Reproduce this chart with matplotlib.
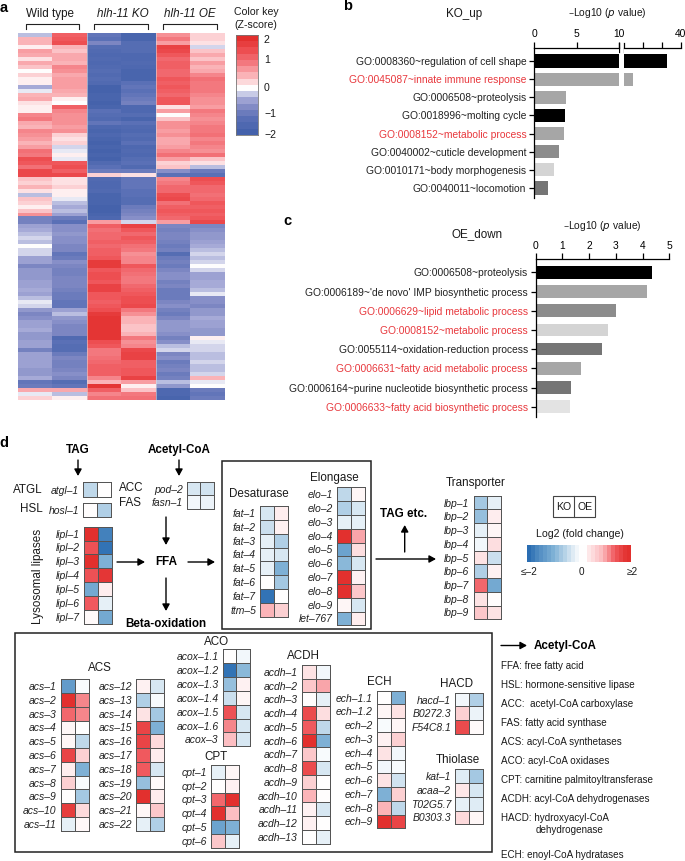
import numpy as np
import matplotlib
matplotlib.use('Agg')
import matplotlib.pyplot as plt
from matplotlib.colors import LinearSegmentedColormap, Normalize
from matplotlib.patches import Rectangle

plt.rcParams['font.family'] = ['Liberation Sans', 'DejaVu Sans']
plt.rcParams['axes.linewidth'] = 0.9

W, H = 685, 861

# Panel a, z-scores read top to bottom, one list per sample
wt_1 = [-0.3, 0.5, 0.5, 0.1, 0.7, 0.6, 0.2, 0.6, 0.4, 0.0,
        0.3, 0.1, 0.1, -0.4, -0.1, 0.5, 0.6, 0.2, 0.1, 0.1,
        0.9, 1.0, 0.6, 0.5, 0.9, 0.8, 0.7, 0.5, 0.7, 1.1,
        1.0, 1.5, 1.4, 1.1, 1.6, 1.6, 0.4, 0.3, 0.5, 0.2,
        -0.3, 0.4, 0.3, 0.1, 0.4, 0.8, -0.9,
        -0.9, -0.5, -0.4, -0.3, -0.2, -0.3, 0.0, -0.2, -0.2, -0.5,
        -0.5, -0.8, -0.6, -0.6, -0.6, -0.5, -0.5, -0.4, -0.5, -0.3,
        -0.1, -0.2, -0.6, -0.8, -0.7, -0.5, -0.5, -0.4, -0.6, -0.6,
        -0.5, -0.5, -0.9, -0.5, -0.5, -0.5, -0.5, -0.6, -0.6, -0.4,
        -1.1, -1.0, 0.6, -0.1, 0.3]
wt_2 = [1.3, 1.4, 1.5, 0.5, 0.4, 0.6, 0.6, 0.5, 0.9, 0.8,
        0.6, 0.7, 0.7, 0.7, 0.6, 0.5, 0.1, 0.0, 1.3, 0.9,
        0.8, 0.8, 0.8, 0.7, 0.8, 0.3, 0.2, 0.3, -0.2, -0.1,
        0.1, -0.1, 1.4, 1.5, 1.3, 1.6, 0.2, 0.2, 0.3, 0.1,
        0.1, -0.1, -0.3, -0.4, -0.3, -0.5, -1.0,
        -1.2, -0.7, -0.7, -0.6, -0.7, -0.7, -0.8, -0.8, -1.1, -1.0,
        -0.7, -0.8, -0.9, -0.9, -0.8, -0.8, -0.8, -0.9, -1.0, -1.0,
        -1.1, -1.1, -0.5, -0.3, -0.6, -0.7, -0.8, -0.8, -0.8, -1.4,
        -1.2, -1.3, -1.3, -1.0, -0.8, -0.9, -0.9, -0.8, -0.7, -0.8,
        -1.3, -1.1, 0.6, -0.3, 0.1]
ko_1 = [-1.1, -1.2, -0.8, -1.3, -1.4, -1.5, -1.4, -1.5, -1.4, -1.3,
        -1.4, -1.3, -1.4, -1.7, -1.7, -1.6, -1.6, -1.7, -1.6, -1.2,
        -1.3, -1.4, -1.1, -1.5, -1.6, -1.5, -1.6, -1.7, -1.6, -1.7,
        -1.6, -1.7, -1.4, -1.2, -1.0, 0.3, -1.4, -1.5, -1.5, -1.4,
        -1.6, -1.6, -1.6, -1.7, -1.7, -1.6, -1.5,
        0.7, 1.3, 1.1, 1.2, 1.2, 1.3, 1.2, 1.3, 1.3, 1.4,
        1.8, 1.8, 1.4, 1.5, 1.5, 1.4, 1.7, 1.7, 1.4, 1.4,
        1.3, 1.4, 1.5, 1.8, 1.9, 1.9, 1.9, 1.9, 1.9, 1.9,
        1.5, 1.4, 1.0, 1.0, 1.1, 1.2, 1.3, 1.3, 1.3, 0.9,
        0.5, 1.9, 1.3, 0.9, 1.1]
ko_2 = [-1.6, -1.6, -1.3, -1.3, -1.3, -1.5, -1.5, -1.4, -1.5, -1.6,
        -1.6, -1.6, -1.2, -1.1, -1.2, -1.1, -1.0, -0.9, -1.5, -1.5,
        -1.3, -1.6, -1.2, -1.4, -1.5, -1.3, -1.4, -1.2, -1.5, -1.4,
        -1.5, -1.3, -1.2, -1.4, -1.0, 0.2, -1.1, -1.1, -1.1, -1.2,
        -1.2, -1.3, -1.3, -1.0, -0.9, -0.8, -0.7,
        -0.2, 1.7, 1.4, 1.2, 1.4, 1.3, 1.1, 1.0, 0.8, 0.9,
        0.9, 1.4, 1.2, 1.1, 1.0, 1.0, 1.2, 1.3, 1.4, 1.5,
        1.5, 1.6, 1.0, 0.8, 0.5, 0.5, 0.4, 0.4, 0.5, 1.0,
        0.8, 0.9, 1.6, 1.7, 1.7, 1.3, 1.3, 1.4, 1.4, 1.7,
        0.7, 0.1, 0.4, 1.0, 1.1]
oe_1 = [0.8, 1.0, 0.7, 1.7, 1.6, 1.4, 1.2, 1.3, 1.3, 1.2,
        1.2, 1.4, 1.3, 1.4, 1.3, 1.2, 1.4, 1.4, 0.2, 0.7,
        0.0, 0.4, 0.8, 0.8, 0.7, 0.8, 0.6, 0.6, 0.7, 0.9,
        1.1, 0.7, 0.3, 0.4, -0.7, -1.2, 0.9, 1.0, 1.2, 1.2,
        1.5, 1.6, 1.1, 1.3, 1.4, 1.3, 1.2,
        0.7, -0.8, -0.9, -0.8, -0.8, -0.9, -1.0, -0.9, -1.3, -1.0,
        -0.9, -1.0, -0.8, -0.7, -0.7, -0.9, -0.8, -1.0, -1.0, -1.0,
        -0.8, -0.7, -0.9, -1.0, -0.8, -0.6, -0.6, -0.6, -0.7, -0.9,
        -0.7, -0.3, -0.2, -0.8, -0.7, -1.0, -0.9, -0.8, -1.0, -0.9,
        -0.3, -0.6, -1.5, -1.5, -1.6]
oe_2 = [0.3, 0.3, 0.2, -0.2, 0.4, 0.6, 0.4, 0.7, 0.5, 0.6,
        0.9, 1.1, 1.0, 1.0, 1.0, 0.9, 0.8, 0.8, 0.7, 1.0,
        0.9, 0.8, 0.9, 1.0, 1.0, 1.1, 0.9, 1.0, 0.9, 0.8,
        1.1, 0.4, 0.2, -0.3, -1.0, -1.2, 1.5, 1.4, 1.2, 1.2,
        1.1, 1.2, 1.4, 1.3, 1.4, 1.3, 1.4,
        1.6, -0.8, -0.7, -0.6, -0.6, -0.5, -0.4, -0.3, -0.2, -0.3,
        -0.2, 0.0, -0.2, -0.5, -0.5, -0.4, -0.4, -0.3, -0.1, -0.7,
        -0.7, -0.8, -0.6, -0.6, -0.4, -0.5, -0.5, -0.6, -0.6, 0.1,
        -0.1, -0.2, -0.2, -0.3, -0.3, -0.2, -0.3, -0.3, -0.2, 0.5,
        -0.1, 0.0, -1.0, -1.1, -1.0]
key_levels = [2, 1.75, 1.5, 1.25, 1, 0.75, 0.5, 0.25, 0, -0.25, -0.5, -0.75, -1, -1.25, -1.5, -1.75]

# Panel b
b_terms = ['GO:0008360~regulation of cell shape', 'GO:0045087~innate immune response',
           'GO:0006508~proteolysis', 'GO:0018996~molting cycle', 'GO:0008152~metabolic process',
           'GO:0040002~cuticle development', 'GO:0010171~body morphogenesis', 'GO:0040011~locomotion']
b_values = [33, 14.7, 3.75, 3.6, 3.5, 2.9, 2.35, 1.6]
b_colors = ['#000000', '#a6a6a6', '#a6a6a6', '#000000', '#a6a6a6', '#8c8c8c', '#d4d4d4', '#757575']
b_red = [1, 4]

# Panel c
c_terms = ['GO:0006508~proteolysis', "GO:0006189~'de novo' IMP biosynthetic process",
           'GO:0006629~lipid metabolic process', 'GO:0008152~metabolic process',
           'GO:0055114~oxidation-reduction process', 'GO:0006631~fatty acid metabolic process',
           'GO:0006164~purine nucleotide biosynthetic process', 'GO:0006633~fatty acid biosynthetic process']
c_values = [4.34, 4.17, 3.0, 2.7, 2.48, 1.71, 1.31, 1.27]
c_colors = ['#000000', '#a6a6a6', '#8c8c8c', '#d4d4d4', '#757575', '#a6a6a6', '#757575', '#e3e3e3']
c_red = [2, 3, 5, 7]

# Panel d, log2 fold change for KO and OE
atgl_genes = ['atgl–1']
atgl_ko = [-0.5]
atgl_oe = [0.0]
hosl_genes = ['hosl–1']
hosl_ko = [0.03]
hosl_oe = [-0.6]
acc_genes = ['pod–2', 'fasn–1']
acc_ko = [-0.3, -0.1]
acc_oe = [-0.35, -0.15]
lipl_genes = ['lipl–1', 'lipl–2', 'lipl–3', 'lipl–4', 'lipl–5', 'lipl–6', 'lipl–7']
lipl_ko = [2, 1.5, 2, 1.5, -1.1, 1.4, 0.05]
lipl_oe = [-1.7, -1.9, -1, 1.9, 0.2, -0.2, -1.1]
fat_genes = ['fat–1', 'fat–2', 'fat–3', 'fat–4', 'fat–5', 'fat–6', 'fat–7', 'ttm–5']
fat_ko = [-0.3, -0.4, -0.2, -0.2, -0.2, 0, -1.9, 0.8]
fat_oe = [0.2, 0.15, -0.6, -0.3, -1.0, -0.7, 0, 0.5]
elo_genes = ['elo–1', 'elo–2', 'elo–3', 'elo–4', 'elo–5', 'elo–6', 'elo–7', 'elo–8', 'elo–9', 'let–767']
elo_ko = [-0.5, -0.6, -0.2, 2, -1.2, -0.9, 2, 2, 0.1, -1]
elo_oe = [0.1, -0.3, -0.2, 0.9, 0.35, -0.3, 0.15, 0.6, -0.3, 0.2]
lbp_genes = ['lbp–1', 'lbp–2', 'lbp–3', 'lbp–4', 'lbp–5', 'lbp–6', 'lbp–7', 'lbp–8', 'lbp–9']
lbp_ko = [-0.7, -0.8, -0.2, -0.1, 0.3, -0.6, 1.3, 0.3, 0.6]
lbp_oe = [-0.2, 0.2, 0.1, 0.35, -0.4, 0.15, -1.1, 0.02, 0.3]
acs1_genes = ['acs–1', 'acs–2', 'acs–3', 'acs–4', 'acs–5', 'acs–6', 'acs–7', 'acs–8', 'acs–9', 'acs–10', 'acs–11']
acs1_ko = [-1.3, 2, 1.3, 0.1, 0.1, 1.7, 0.2, 0.5, 0.02, 1.8, -0.2]
acs1_oe = [-0.05, 1.1, 1.1, 0, -0.5, 0.5, -1, -0.05, -0.7, 0.4, 0.07]
acs2_genes = ['acs–12', 'acs–13', 'acs–14', 'acs–15', 'acs–16', 'acs–17', 'acs–18', 'acs–19', 'acs–20', 'acs–21', 'acs–22']
acs2_ko = [0.15, -0.6, 0.3, 1.7, 1.7, 1.4, 1.4, -0.8, 2, 0.1, -0.2]
acs2_oe = [-0.3, -0.05, -0.7, -1.0, 0.4, 0.2, -0.3, 0.05, 0.2, 0.6, -0.6]
acox_genes = ['acox–1.1', 'acox–1.2', 'acox–1.3', 'acox–1.4', 'acox–1.5', 'acox–1.6', 'acox–3']
acox_ko = [0.0, -1.9, -0.8, -0.4, 1.5, 1.1, 0.7]
acox_oe = [-0.1, -0.9, 0.15, 0.1, -0.3, -0.3, -0.3]
cpt_genes = ['cpt–1', 'cpt–2', 'cpt–3', 'cpt–4', 'cpt–5', 'cpt–6']
cpt_ko = [-0.2, 0, 1.3, 2, -1.2, 0.6]
cpt_oe = [0.1, 0.15, 2, 0.7, -1, -0.2]
acdh_genes = ['acdh–1', 'acdh–2', 'acdh–3', 'acdh–4', 'acdh–5', 'acdh–6', 'acdh–7', 'acdh–8', 'acdh–9',
              'acdh–10', 'acdh–11', 'acdh–12', 'acdh–13']
acdh_ko = [0.3, 0.6, 0.02, 1.6, 1.4, 2, 0.6, 1.6, 0.5, 0.8, 0.15, 0.15, 0]
acdh_oe = [-0.1, 0.9, -0.2, 0.35, -0.5, -1, -0.05, -0.3, 0, 0.02, -0.3, 0, -0.2]
ech_genes = ['ech–1.1', 'ech–1.2', 'ech–2', 'ech–3', 'ech–4', 'ech–5', 'ech–6', 'ech–7', 'ech–8', 'ech–9']
ech_ko = [0, 0.1, -0.05, 0.15, 0.3, -0.1, 0.3, -1, 0.8, 2]
ech_oe = [-1, 0.3, 0.1, 0.5, -0.1, -0.05, -0.35, 0.5, -0.5, 1.7]
hacd_genes = ['hacd–1', 'B0272.3', 'F54C8.1']
hacd_ko = [-0.1, 0.5, 1.6]
hacd_oe = [-0.6, -0.15, 0.05]
thio_genes = ['kat–1', 'acaa–2', 'T02G5.7', 'B0303.3']
thio_ko = [-0.25, 0.25, -0.2, 0.4]
thio_oe = [-0.7, -0.3, -0.25, 0.1]
fc_levels = [-2, -1.8, -1.6, -1.45, -1.3, -1.15, -1, -0.85, -0.7, -0.55, -0.4, -0.25, -0.1, 0, 0,
             0.25, 0.4, 0.55, 0.7, 0.9, 1.1, 1.3, 1.5, 1.7, 1.9, 2]

legend_lines = ['FFA: free fatty acid', 'HSL: hormone-sensitive lipase', 'ACC:  acetyl-CoA carboxylase',
                'FAS: fatty acid synthase', 'ACS: acyl-CoA synthetases', 'ACO: acyl-CoA oxidases',
                'CPT: carnitine palmitoyltransferase', 'ACDH: acyl-CoA dehydrogenases',
                'HACD: hydroxyacyl-CoA']

zscore_cmap = LinearSegmentedColormap.from_list('zscore', [
    (0.0, '#3a5ba6'), (0.2, '#5a70b6'), (0.3, '#7d87c3'), (0.4, '#a6aad7'), (0.5, '#ffffff'),
    (0.625, '#fbb5b9'), (0.75, '#f47a80'), (0.875, '#ee4f53'), (1.0, '#e2302e')])
fc_cmap = LinearSegmentedColormap.from_list('fc', [
    (0.0, '#2a6db2'), (0.25, '#7db0d5'), (0.5, '#ffffff'), (0.7, '#fbb5b9'), (0.85, '#f0595e'), (1.0, '#e2302e')])
fc_norm = Normalize(-2, 2)


def axes_px(x0, y0, x1, y1):
    return fig.add_axes([x0 / W, 1 - y1 / H, (x1 - x0) / W, (y1 - y0) / H])


def gene_heatmap(box, genes, ko, oe):
    ax = axes_px(*box)
    ax.pcolormesh(np.array([ko, oe]).T, cmap=fc_cmap, norm=fc_norm, edgecolors='#555555', linewidth=0.55, clip_on=False)
    ax.set_ylim(len(genes), 0)
    ax.set_xticks([])
    ax.set_yticks(np.arange(len(genes)) + 0.5)
    ax.set_yticklabels(genes, fontsize=7.5, style='italic', color='#222222')
    ax.tick_params(axis='y', length=0, pad=3)
    for s in ax.spines.values():
        s.set_visible(False)
    return ax


def go_axis(ax, terms, colors, red, y_low, y_high):
    ax.set_ylim(y_low, y_high)
    ax.xaxis.tick_top()
    for s in ['right', 'bottom']:
        ax.spines[s].set_visible(False)
    ax.set_yticks(range(len(terms)))
    ax.set_yticklabels(terms, fontsize=7.4, color='#222222')
    for i in red:
        ax.get_yticklabels()[i].set_color('#e8383d')
    ax.tick_params(axis='y', length=3.5, width=0.9, pad=2)
    ax.tick_params(axis='x', length=4, width=0.9, pad=2, labelsize=7.4)


fig = plt.figure(figsize=(W / 100, H / 100), dpi=100)
over = fig.add_axes([0, 0, 1, 1])
over.set_xlim(0, W)
over.set_ylim(H, 0)
over.axis('off')


def label(x, y, s, size=8.4, ha='center', **kw):
    over.text(x, y, s, fontsize=size, ha=ha, va='center', color=kw.pop('color', '#1a1a1a'), **kw)


def arrow(x0, y0, x1, y1):
    over.annotate('', xy=(x1, y1), xytext=(x0, y0),
                  arrowprops=dict(arrowstyle='-|>,head_width=0.22,head_length=0.4', color='black', lw=1.0,
                                  shrinkA=0, shrinkB=0))


# a
label(4, 8, 'a', size=10.5, ha='center', weight='bold', color='black')
label(50, 14, 'Wild type')
label(123, 14, 'hlh-11 KO', style='italic')
label(190, 14, 'hlh-11 OE', style='italic')
for x0, x1 in [(26, 79), (94, 148), (163, 217)]:
    over.plot([x0, x0, x1, x1], [29, 24, 24, 29], color='#222222', lw=0.8)
label(256, 12, 'Color key', size=7.6)
label(256, 25, '(Z-score)', size=7.6)

heat = axes_px(18, 33, 225, 400)
heat.imshow(np.array([wt_1, wt_2, ko_1, ko_2, oe_1, oe_2]).T, cmap=zscore_cmap, vmin=-2, vmax=2,
            aspect='auto', interpolation='nearest')
heat.axvline(1.5, color='#dddddd', lw=0.4)
heat.axvline(3.5, color='#dddddd', lw=0.4)
heat.axis('off')

key = axes_px(236, 35, 258, 135)
key.imshow(np.array(key_levels).reshape(-1, 1), cmap=zscore_cmap, vmin=-2, vmax=2, aspect='auto')
key.set_xticks([])
key.set_yticks([])
for s in key.spines.values():
    s.set_color('#777777')
    s.set_linewidth(0.6)
for y, s in [(40, '2'), (60, '1'), (88, '0'), (114, '−1'), (135, '−2')]:
    label(264, y, s, size=7.6, ha='left')

# b
label(348, 6, 'b', size=10.5, weight='bold', color='black')
label(464, 14, 'KO_up')
label(607, 13, '–Log10 ($\\mathit{p}$ value)', size=7.4)
y_top = -0.733
y_bot = 7.55
b1 = axes_px(534, 47.7, 619.3, 198)
b1.barh(range(8), b_values, height=0.72, color=b_colors)
b1.set_xlim(0, 10)
b1.set_xticks([0, 5, 10])
go_axis(b1, b_terms, b_colors, b_red, y_bot, y_top)
b2 = axes_px(623.7, 47.7, 680.7, 198)
b2.barh(range(8), b_values, height=0.72, color=b_colors)
b2.set_xlim(10, 40)
b2.set_xticks([20, 30, 40])
b2.set_xticklabels(['', '', '40'])
b2.set_ylim(y_bot, y_top)
b2.xaxis.tick_top()
b2.tick_params(axis='x', length=4, width=0.9, pad=2, labelsize=7.4)
b2.set_yticks([])
for s in ['left', 'right', 'bottom']:
    b2.spines[s].set_visible(False)
over.plot([619.3, 619.3], [43, 52], color='black', lw=0.9)
over.plot([623.7, 623.7], [43, 52], color='black', lw=0.9)

# c
label(287, 221, 'c', size=10.5, weight='bold', color='black')
label(477, 234, 'OE_down')
label(602, 226, '–Log10 ($\\mathit{p}$ value)', size=7.4)
c1 = axes_px(535.7, 259.3, 669.3, 416.7)
c1.barh(range(8), c_values, height=0.66, color=c_colors)
c1.set_xlim(0, 5)
c1.set_xticks(range(6))
go_axis(c1, c_terms, c_colors, c_red, 7.52, -0.68)

# d pathway
label(4, 443, 'd', size=10.5, weight='bold', color='black')
label(78, 449.7, 'TAG', weight='bold', color='black')
label(179, 450, 'Acetyl-CoA', weight='bold', color='black')
label(166, 562, 'FFA', weight='bold', color='black')
label(166, 624, 'Beta-oxidation', weight='bold', color='black')
label(404, 514, 'TAG etc.', weight='bold', color='black')
arrow(78, 460, 78, 476)
arrow(179, 460, 179, 476)
arrow(166, 517, 166, 545)
arrow(117, 562, 145, 562)
arrow(188, 562, 215, 562)
arrow(166, 578, 166, 611)
arrow(404.7, 552, 404.7, 525)
arrow(376, 559, 436, 559)
label(43, 490, 'ATGL', ha='right')
label(43, 509, 'HSL', ha='right')
label(119, 488, 'ACC', ha='left')
label(119, 503, 'FAS', ha='left')
label(38, 576, 'Lysosomal lipases', rotation=90)
label(259, 494, 'Desaturase')
label(334, 478, 'Elongase')
label(476, 483, 'Transporter')
over.add_patch(Rectangle((222.3, 461), 148.4, 168.3, fill=False, ec='#222222', lw=1.1))

gene_heatmap((83.3, 482.3, 111.3, 497), atgl_genes, atgl_ko, atgl_oe)
gene_heatmap((83.3, 502.7, 111.3, 516.7), hosl_genes, hosl_ko, hosl_oe)
gene_heatmap((186.7, 481.7, 214, 509), acc_genes, acc_ko, acc_oe)
gene_heatmap((83.7, 526.7, 111.5, 623.7), lipl_genes, lipl_ko, lipl_oe)
gene_heatmap((260.3, 506, 287.7, 616.7), fat_genes, fat_ko, fat_oe)
gene_heatmap((337.3, 487.3, 364.7, 625.3), elo_genes, elo_ko, elo_oe)
gene_heatmap((473.7, 495.7, 500.7, 619.3), lbp_genes, lbp_ko, lbp_oe)

# d KO/OE key
over.add_patch(Rectangle((553.3, 496), 41.7, 20.7, fill=False, ec='#444444', lw=0.8))
over.plot([574.2, 574.2], [496, 516.7], color='#444444', lw=0.8)
label(563.8, 507, 'KO', size=7.6)
label(584.8, 507, 'OE', size=7.6)
label(580, 534, 'Log2 (fold change)', size=7.6)
fc_key = axes_px(527.3, 545.3, 630.7, 561.7)
fc_key.imshow(np.array(fc_levels).reshape(1, -1), cmap=fc_cmap, norm=fc_norm, aspect='auto')
fc_key.axis('off')
label(529, 571.7, '≤–2', size=7.2)
label(581, 571.7, '0', size=7.2)
label(632, 571.7, '≥2', size=7.2)

# d beta-oxidation box
over.add_patch(Rectangle((15, 633), 476.7, 218.7, fill=False, ec='#222222', lw=1.1))
label(100, 667.7, 'ACS')
label(217, 642, 'ACO')
label(216, 756.7, 'CPT')
label(303, 655.7, 'ACDH')
label(379, 681.7, 'ECH')
label(457, 684, 'HACD')
label(458, 759.7, 'Thiolase')
gene_heatmap((60.7, 679.3, 88.7, 830.7), acs1_genes, acs1_ko, acs1_oe)
gene_heatmap((136, 679.3, 163.7, 830.7), acs2_genes, acs2_ko, acs2_oe)
gene_heatmap((222.7, 649.3, 250, 746.3), acox_genes, acox_ko, acox_oe)
gene_heatmap((211.3, 765, 239, 847.7), cpt_genes, cpt_ko, cpt_oe)
gene_heatmap((302, 665, 329.7, 843.7), acdh_genes, acdh_ko, acdh_oe)
gene_heatmap((377, 690.7, 404.7, 828.3), ech_genes, ech_ko, ech_oe)
gene_heatmap((455.3, 692.7, 483, 733.7), hacd_genes, hacd_ko, hacd_oe)
gene_heatmap((455.3, 769.3, 483, 824.3), thio_genes, thio_ko, thio_oe)

# d abbreviations
arrow(501, 645.5, 527, 645.5)
label(534, 645.5, 'Acetyl-CoA', ha='left', weight='bold', color='black')
for i, line in enumerate(legend_lines):
    label(501, 666.3 + i * 18.95, line, size=7.1, ha='left')
label(535.7, 829.7, 'dehydrogenase', size=7.1, ha='left')
label(501, 855, 'ECH: enoyl-CoA hydratases', size=7.1, ha='left')

fig.savefig('out.png', dpi=100)
